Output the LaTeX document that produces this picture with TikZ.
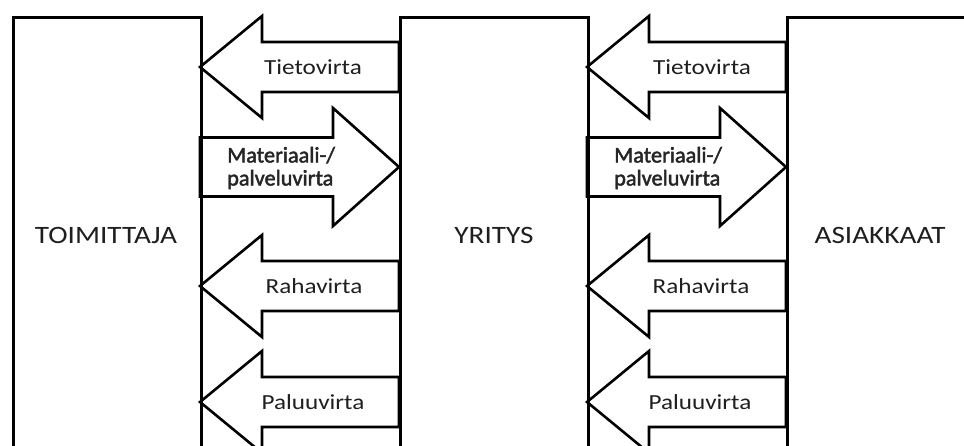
\documentclass[tikz,border=0pt]{standalone}
\usepackage{fontspec}
\setmainfont{Carlito}
\newfontfamily\mfont[FakeBold=2]{Carlito}
\newcommand\sx[1]{\scalebox{1.17}[1]{#1}}
\tikzset{
  box/.style={draw, line width=2.6pt, minimum width=188pt, minimum height=470pt, anchor=north west, inner sep=0pt},
  flow/.style={draw, line width=2.6pt, line join=miter},
  lbl/.style={font=\fontsize{21.5}{25}\selectfont, text=black!88, inner sep=0pt},
  mlbl/.style={font=\mfont\fontsize{22.3}{23}\selectfont, text=black!85, inner sep=0pt, align=left, anchor=west},
  blbl/.style={font=\fontsize{25}{30}\selectfont, text=black!88, inner sep=0pt}
}
% left-pointing arrow: tip x, y, tail x
\newcommand\larr[3]{\draw[flow] (#1,#2) -- ++(62,-51) -- ++(0,26) -- (#3,#2-25) -- (#3,#2+25) -- (#1+62,#2+25) -- ++(0,26) -- cycle;}
% right-pointing arrow: tail x, y, tip x
\newcommand\rarr[3]{\draw[flow] (#3,#2) -- ++(-66,-59) -- ++(0,29.5) -- (#1,#2-29.5) -- (#1,#2+29.5) -- (#3-66,#2+29.5) -- ++(0,29.5) -- cycle;}
\begin{document}
\begin{tikzpicture}[x=1pt,y=-1pt]
\useasboundingbox (0,0) rectangle (964,445);
\clip (0,0) rectangle (964,445);
\fill[white] (0,0) rectangle (964,445);
% arrows (left pair)
\larr{200}{67}{399}
\rarr{200}{167}{399}
\larr{200}{286}{399}
\larr{200}{402}{399}
% arrows (right pair)
\larr{587}{67}{786}
\rarr{587}{167}{786}
\larr{587}{286}{786}
\larr{587}{402}{786}
% boxes
\node[box] (toim) at (12,16) {};
\node[box] (yri) at (399,16) {};
\node[box] (asi) at (786,16) {};
\node[blbl] (tl) at (106,235) {\sx{TOIMITTAJA}};
\node[blbl] (yl) at (494,235) {\sx{YRITYS}};
\node[blbl] (al) at (880,235) {\sx{ASIAKKAAT}};
% flow labels
\node[lbl] (t1) at (313,67) {\sx{Tietovirta}};
\node[mlbl] (m1) at (227,168) {Materiaali-/\\palveluvirta};
\node[lbl] (r1) at (314,286) {\sx{Rahavirta}};
\node[lbl] (p1) at (313,402) {\sx{Paluuvirta}};
\node[lbl] (t2) at (702,67) {\sx{Tietovirta}};
\node[mlbl] (m2) at (614,168) {Materiaali-/\\palveluvirta};
\node[lbl] (r2) at (701,286) {\sx{Rahavirta}};
\node[lbl] (p2) at (700,402) {\sx{Paluuvirta}};
\end{tikzpicture}
\end{document}
